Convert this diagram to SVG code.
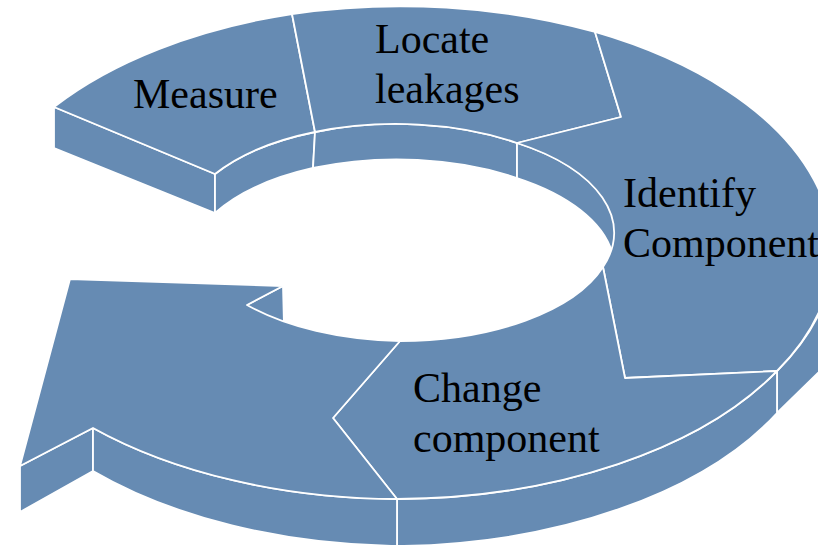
<svg xmlns="http://www.w3.org/2000/svg" width="818" height="545" viewBox="0 0 818 545">
<style>
.f{fill:#668bb3;stroke:#ffffff;stroke-width:1.8;stroke-linejoin:round}
.t{font-family:"Liberation Serif","Times New Roman",serif;font-size:42px;fill:#000000}
</style>
<rect width="818" height="545" fill="#ffffff"/>
<g id="connectors"/>
<g id="node-measure">
<path class="f" d="M54,107 L215,174 L215,213 L54,148 Z"/>
<path class="f" d="M215,174 A213,107 0 0 1 315,132 L313,168 A213,107 0 0 0 215,213 Z"/>
<path class="f" d="M54,107 A437,246 0 0 1 292,14 L315,132 A213,107 0 0 0 215,174 Z"/>
<text class="t" x="133" y="108">Measure</text>
</g>
<g id="node-locate">
<path class="f" d="M315,132 A213,107 0 0 1 517,143 L517,178 A213,107 0 0 0 313,168 Z"/>
<path class="f" d="M292,14 A437,246 0 0 1 595,32 L621,117 L517,143 A213,107 0 0 0 315,132 Z"/>
<text class="t" x="375" y="53">Locate</text>
<text class="t" x="375" y="103">leakages</text>
</g>
<g id="node-identify">
<path class="f" d="M517,143 A213,107 0 0 1 612,252 A213,107 0 0 0 517,178 Z"/>
<path class="f" d="M777,371 A437,246 0 0 0 834,252 L870,252 L870,320 L818,373 L777,413 Z"/>
<path class="f" d="M595,32 A437,246 0 0 1 777,371 L625,378 L603,267 A213,107 0 0 0 517,143 L621,117 Z"/>
<text class="t" x="623" y="207">Identify</text>
<text class="t" x="623" y="257">Component</text>
</g>
<g id="node-change">
<path class="f" d="M777,371 A437,246 0 0 1 397,499 L397,546 A437,246 0 0 0 777,413 Z"/>
<path class="f" d="M777,371 A437,246 0 0 1 397,499 L333,418 L400,341 A213,107 0 0 0 603,267 L625,378 Z"/>
<text class="t" x="413" y="402">Change</text>
<text class="t" x="413" y="452">component</text>
</g>
<g id="node-arrow">
<path class="f" d="M20,466 L93,428 L93,471 L20,512 Z"/>
<path class="f" d="M397,499 A437,246 0 0 1 93,428 L93,471 A437,246 0 0 0 397,546 Z"/>
<path class="f" d="M247,305 L283,286 L284,326 L247,346 Z"/>
<path class="f" d="M397,499 A437,246 0 0 1 93,428 L20,466 L70,279 L283,286 L247,305 A213,107 0 0 0 400,341 L333,418 Z"/>
</g>
</svg>
